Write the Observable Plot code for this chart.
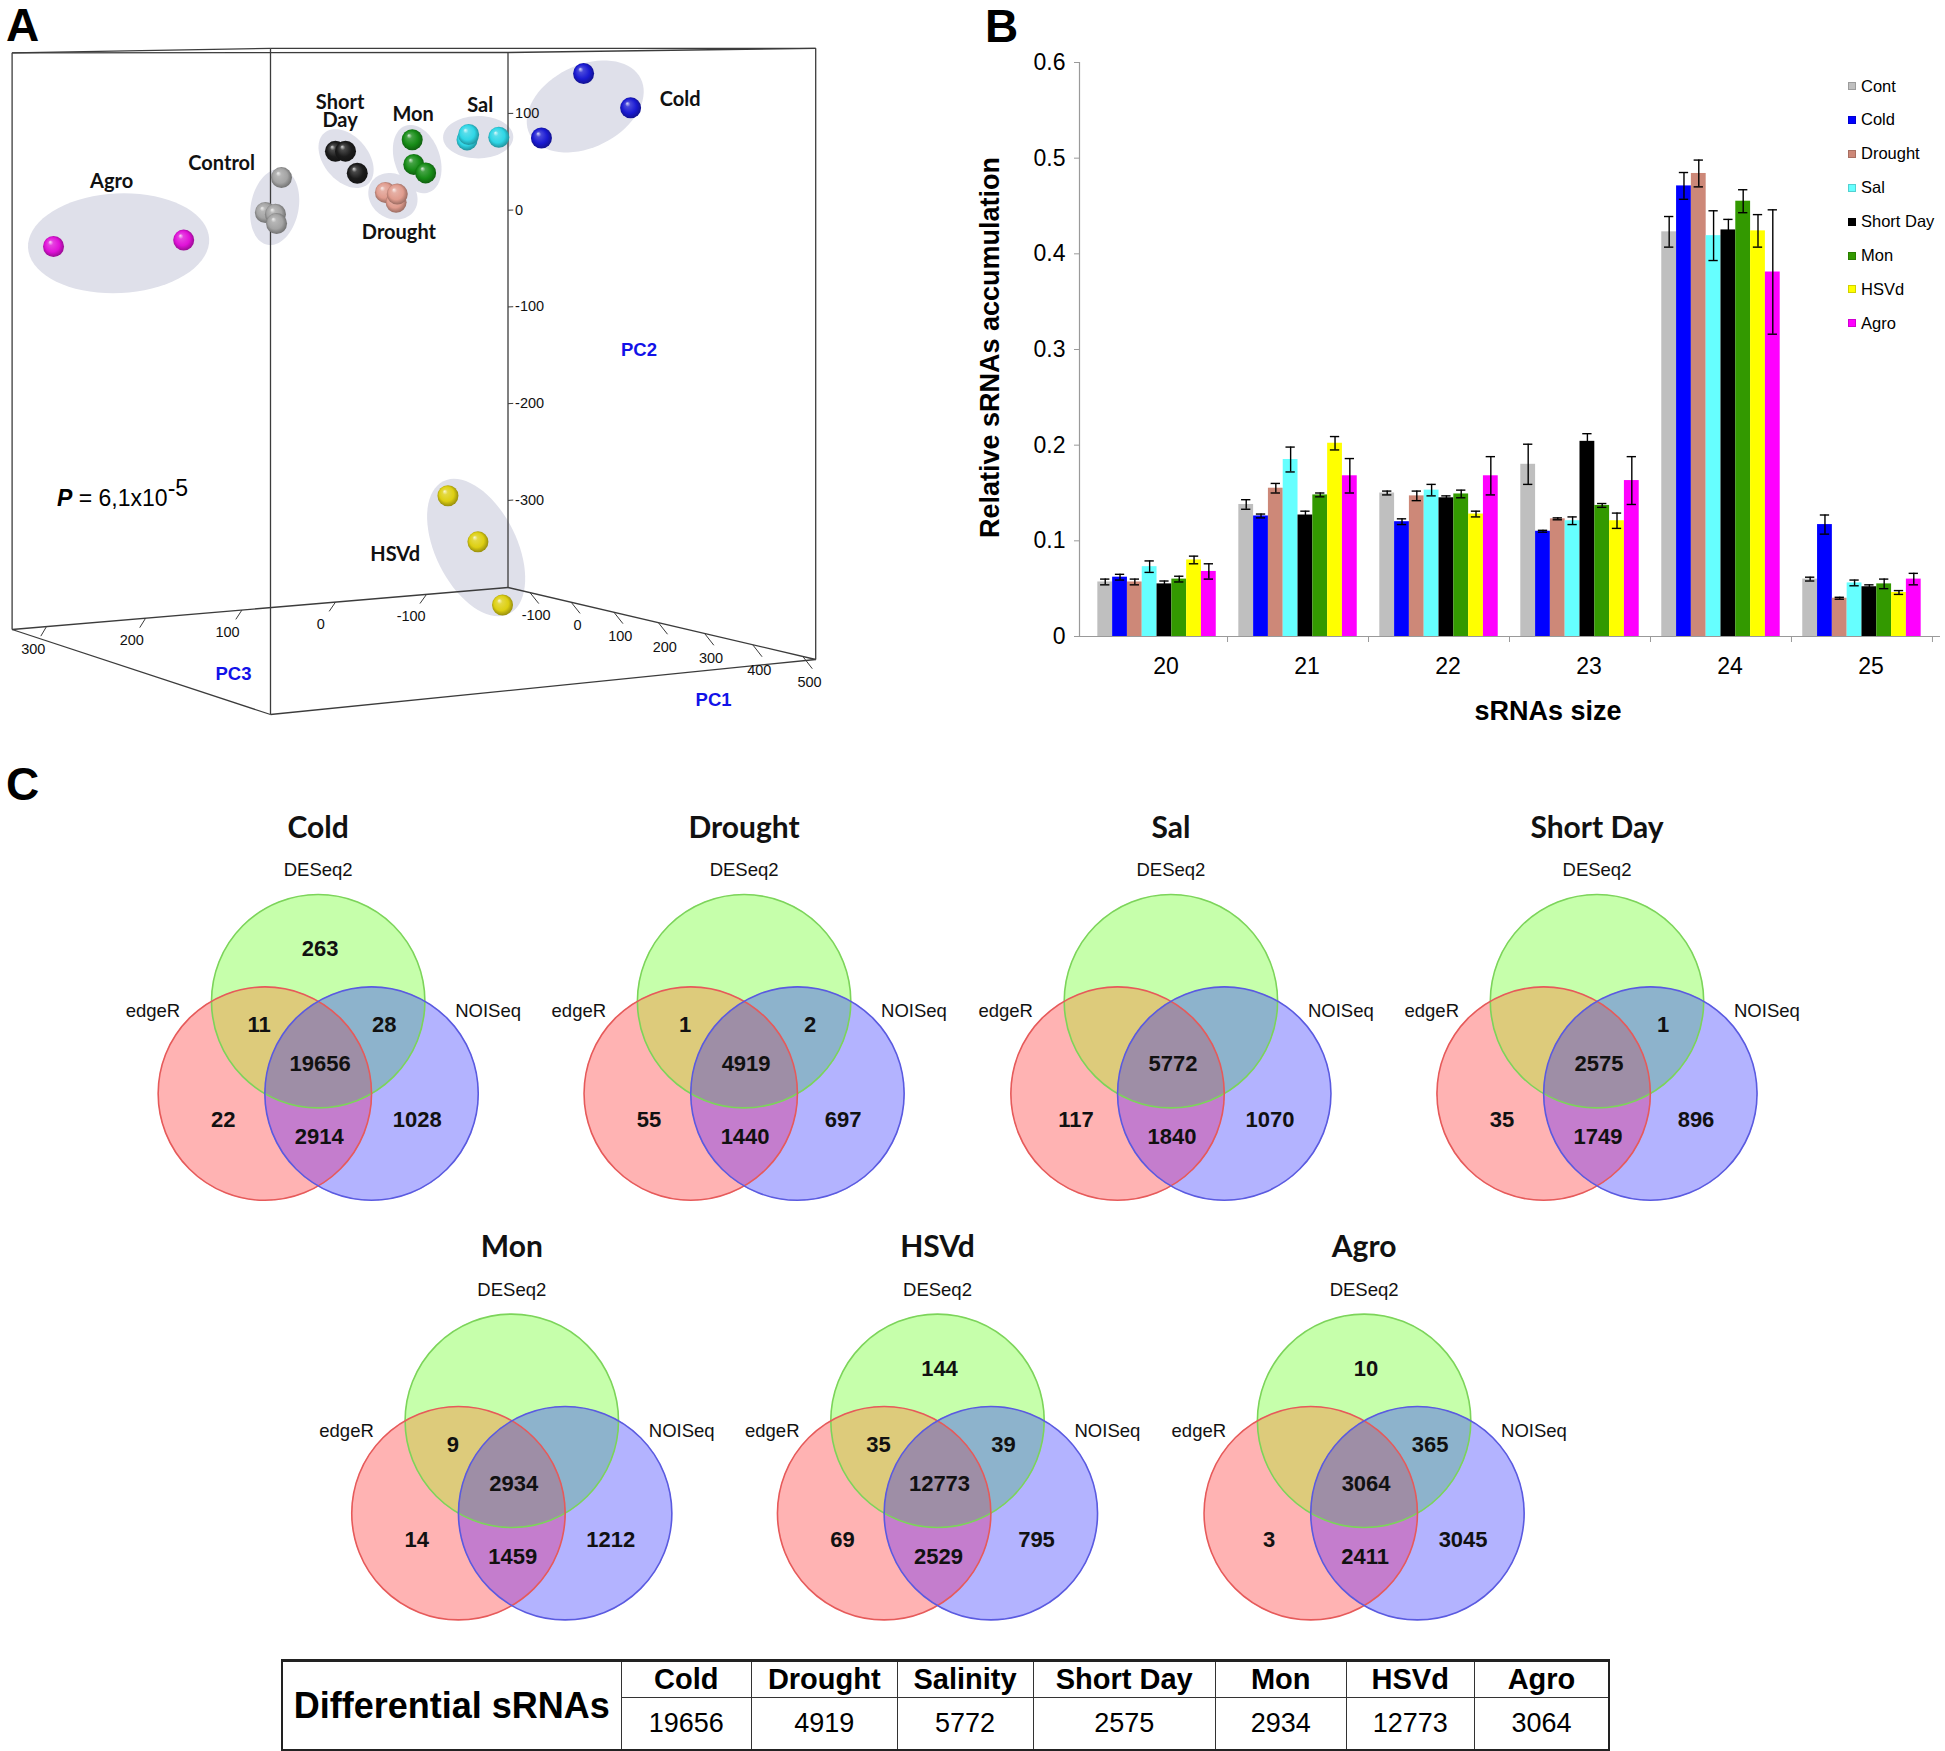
<!DOCTYPE html>
<html>
<head>
<meta charset="utf-8">
<script src="https://cdn.jsdelivr.net/npm/d3@7"></script>
<script src="https://cdn.jsdelivr.net/npm/@observablehq/plot@0.6"></script>
<style>
  html, body { margin: 0; padding: 0; background: #fff; }
  #root { position: relative; width: 1945px; height: 1751px; overflow: hidden; background: #fff;
          font-family: "Liberation Sans", Arial, sans-serif; color: #000; }
  .lg { position: absolute; left: 1848px; height: 20px; display: flex; align-items: center;
        font-size: 16.5px; white-space: nowrap; }
  .lg i { display: inline-block; width: 8px; height: 8px; margin-right: 5px;
          box-shadow: inset 0 0 0 1px rgba(0,0,0,0.18); }
  table.sum { position: absolute; left: 281px; top: 1659px; border-collapse: collapse; table-layout: fixed;
              font-family: "Liberation Sans", Arial, sans-serif; }
  table.sum td { border: 1.5px solid #333; text-align: center; vertical-align: middle; padding: 0; white-space: nowrap; }
  table.sum tr.h td { height: 35px; font-weight: bold; font-size: 29px; border-top: 3px solid #222; }
  table.sum tr.v td { height: 51px; font-size: 27px; border-bottom: 3px solid #222; }
  table.sum tr.h td.big { font-weight: bold; font-size: 36px; border-top: 3px solid #222; border-bottom: 3px solid #222; border-left: 2px solid #222; }
  table.sum td.last { border-right: 2px solid #222; }
</style>
</head>
<body>
<div id="root"></div>
<script>
// ======================= DATA =======================
// ---- Panel A: PCA scores (PC1, PC2, PC3) ----
const pcaGroups = ["Agro", "Control", "Short Day", "Mon", "Drought", "Sal", "Cold", "HSVd"];
const pcaSampleGroup = ["Agro","Agro",
  "Control","Control","Control","Control",
  "Short Day","Short Day","Short Day",
  "Mon","Mon","Mon",
  "Drought","Drought","Drought",
  "Sal","Sal","Sal",
  "Cold","Cold","Cold",
  "HSVd","HSVd","HSVd"];
const pcaPC1 = [-134, -48,  -48, -91, -64, -61,  -32, -6, 24,  -75, -71, -41,  -25, 5, 2,  -48, -52, 26,  118, 224, 19,  -100, -25, 35];
const pcaPC2 = [-23, -17,   41, 6, 5, -4,   66, 66.5, 45.6,  75.5, 51, 43,  25, 24, 16,  80.4, 75, 78.5,  141, 108, 77,  -285, -325, -382];
const pcaPC3 = [300, 200,  100, 100, 100, 100,  50, 50, 50,  -50, -50, -50,  0, 0, 0,  -100, -100, -100,  -150, -150, -150,  -100, -100, -100];
const pc1Ticks = [-100, 0, 100, 200, 300, 400, 500];
const pc2Ticks = [-300, -200, -100, 0, 100];
const pc3Ticks = [-100, 0, 100, 200, 300];
const pcaPText = "6,1x10", pcaPExp = "-5";

// ---- Panel B: relative sRNA accumulation by size ----
const sizes = [20, 21, 22, 23, 24, 25];
const conditions = ["Cont", "Cold", "Drought", "Sal", "Short Day", "Mon", "HSVd", "Agro"];
const meanCont     = [0.057, 0.138, 0.150, 0.180, 0.423, 0.060];
const meanCold     = [0.062, 0.126, 0.120, 0.110, 0.471, 0.117];
const meanDrought  = [0.057, 0.155, 0.147, 0.123, 0.484, 0.040];
const meanSal      = [0.073, 0.185, 0.153, 0.121, 0.419, 0.056];
const meanShortDay = [0.055, 0.127, 0.145, 0.204, 0.425, 0.052];
const meanMon      = [0.060, 0.148, 0.149, 0.137, 0.455, 0.055];
const meanHSVd     = [0.080, 0.202, 0.128, 0.121, 0.424, 0.046];
const meanAgro     = [0.068, 0.168, 0.168, 0.163, 0.381, 0.060];
const errCont      = [0.003, 0.005, 0.002, 0.021, 0.016, 0.002];
const errCold      = [0.003, 0.002, 0.003, 0.001, 0.014, 0.010];
const errDrought   = [0.003, 0.005, 0.005, 0.001, 0.014, 0.001];
const errSal       = [0.006, 0.013, 0.006, 0.004, 0.026, 0.003];
const errShortDay  = [0.003, 0.004, 0.002, 0.008, 0.011, 0.002];
const errMon       = [0.003, 0.002, 0.004, 0.002, 0.012, 0.005];
const errHSVd      = [0.004, 0.007, 0.003, 0.008, 0.017, 0.002];
const errAgro      = [0.008, 0.018, 0.020, 0.025, 0.065, 0.006];
const yTicksB = [0, 0.1, 0.2, 0.3, 0.4, 0.5, 0.6];

// ---- Panel C: Venn counts (DESeq2 / edgeR / NOISeq) ----
const vennTitles   = ["Cold", "Drought", "Sal", "Short Day", "Mon", "HSVd", "Agro"];
const onlyDESeq2   = [263, null, null, null, null, 144, 10];
const edgeRDESeq2  = [11, 1, null, null, 9, 35, null];
const DESeq2NOISeq = [28, 2, null, 1, null, 39, 365];
const allThree     = [19656, 4919, 5772, 2575, 2934, 12773, 3064];
const onlyEdgeR    = [22, 55, 117, 35, 14, 69, 3];
const edgeRNOISeq  = [2914, 1440, 1840, 1749, 1459, 2529, 2411];
const onlyNOISeq   = [1028, 697, 1070, 896, 1212, 795, 3045];
const tableHeaders = ["Cold", "Drought", "Salinity", "Short Day", "Mon", "HSVd", "Agro"];
const tableCounts  = [19656, 4919, 5772, 2575, 2934, 12773, 3064];

// ======================= STYLE / LAYOUT =======================
const root = document.getElementById("root");
const sphereColors = ["#e012d8", "#a4a4a4", "#1c1c1c", "#178c17", "#e09c8e", "#2fd6e6", "#1a1ad2", "#ddcf12"];
const condColors = ["#bfbfbf", "#0000ff", "#cd8878", "#66ffff", "#000000", "#339900", "#ffff00", "#ff00ff"];

// sphere gradients
document.body.insertAdjacentHTML("afterbegin",
  `<svg width="0" height="0" style="position:absolute"><defs>${sphereColors.map((c, i) => {
    const col = d3.color(c);
    const hi = d3.interpolateRgb(c, "#ffffff")(0.85), mid = d3.interpolateRgb(c, "#ffffff")(0.2);
    return `<radialGradient id="sph${i}" cx="0.5" cy="0.5" r="0.56" fx="0.33" fy="0.28">
      <stop offset="0" stop-color="${hi}"/><stop offset="0.22" stop-color="${mid}"/>
      <stop offset="0.62" stop-color="${col}"/><stop offset="1" stop-color="${col.darker(1.4)}"/></radialGradient>`;
  }).join("")}</defs></svg>`);

// ---------------- Panel A : perspective projection of PCA space ----------------
const P1 = [-155, 525], P2 = [-390, 163], P3 = [-192, 334];
const floorB = [507.5, 587], floorR = [815.2, 659], floorF = [270, 714], floorL = [11.6, 629];
const boxH = 535;
function homography(P0, Pa, Pb, Pc) { // unit square (0,0),(1,0),(1,1),(0,1)
  const [x0, y0] = P0, [x1, y1] = Pa, [x2, y2] = Pb, [x3, y3] = Pc;
  const sx = x0 - x1 + x2 - x3, sy = y0 - y1 + y2 - y3;
  const dx1 = x1 - x2, dx2 = x3 - x2, dy1 = y1 - y2, dy2 = y3 - y2;
  const den = dx1 * dy2 - dx2 * dy1;
  const g = (sx * dy2 - dx2 * sy) / den, h = (dx1 * sy - sx * dy1) / den;
  const a = x1 - x0 + g * x1, b = x3 - x0 + h * x3, d = y1 - y0 + g * y1, e = y3 - y0 + h * y3;
  return (s, t) => { const w = g * s + h * t + 1; return [(a * s + b * t + x0) / w, (d * s + e * t + y0) / w, w]; };
}
const H = homography(floorB, floorR, floorF, floorL);
function proj(p1, p2, p3) {
  const s = (p1 - P1[0]) / (P1[1] - P1[0]), t = (p3 - P3[0]) / (P3[1] - P3[0]), q = (p2 - P2[0]) / (P2[1] - P2[0]);
  const [X, Y, w] = H(s, t);
  return [X, Y - boxH * q / w, w];
}

const samples = pcaSampleGroup.map((g, i) => {
  const [px, py, w] = proj(pcaPC1[i], pcaPC2[i], pcaPC3[i]);
  return {group: g, gi: pcaGroups.indexOf(g), px, py, w};
}).sort((a, b) => b.w - a.w);

// group hull ellipses (from projected samples)
const ellipsePts = [], centroids = {};
for (const g of pcaGroups) {
  const pts = samples.filter(d => d.group === g), n = pts.length;
  const mx = d3.mean(pts, d => d.px), my = d3.mean(pts, d => d.py);
  centroids[g] = [mx, my];
  let sxx = 0, syy = 0, sxy = 0;
  for (const p of pts) { const dx = p.px - mx, dy = p.py - my; sxx += dx * dx; syy += dy * dy; sxy += dx * dy; }
  sxx /= n; syy /= n; sxy /= n;
  const tr2 = (sxx + syy) / 2, disc = Math.sqrt(((sxx - syy) / 2) ** 2 + sxy * sxy);
  const l1 = tr2 + disc, l2 = Math.max(0, tr2 - disc);
  const ang = Math.abs(sxy) > 1e-9 ? Math.atan2(l1 - sxx, sxy) : (sxx >= syy ? 0 : Math.PI / 2);
  const a = 1.1 * Math.sqrt(l1) + 19, b = Math.max(Math.sqrt(l2) + 19, 0.55 * a);
  for (let k = 0; k < 72; k++) {
    const th = 2 * Math.PI * k / 72, ex = a * Math.cos(th), ey = b * Math.sin(th);
    ellipsePts.push({g, x: mx + ex * Math.cos(ang) - ey * Math.sin(ang), y: my + ex * Math.sin(ang) + ey * Math.cos(ang)});
  }
}

// box edges, ticks
const cornerPC = (i, j, k) => [P1[i], P2[j], P3[k]];
const edgeList = [
  [[0,0,0],[1,0,0]], [[0,0,0],[0,0,1]], [[1,0,0],[1,0,1]], [[0,0,1],[1,0,1]],
  [[0,1,0],[1,1,0]], [[0,1,0],[0,1,1]], [[1,1,0],[1,1,1]], [[0,1,1],[1,1,1]],
  [[0,0,0],[0,1,0]], [[1,0,0],[1,1,0]], [[0,0,1],[0,1,1]], [[1,0,1],[1,1,1]]];
const edges = edgeList.map(([c1, c2]) => {
  const a = proj(...cornerPC(...c1)), b = proj(...cornerPC(...c2));
  return {x1: a[0], y1: a[1], x2: b[0], y2: b[1]};
});
const tickSegs = [], tickLabs = [], pc2Labs = [];
for (const v of pc1Ticks) {
  const a = proj(v, P2[0], P3[0]), b = proj(v, P2[0] - 12, P3[0] - 10), l = proj(v, P2[0] - 24, P3[0] - 7);
  tickSegs.push({x1: a[0], y1: a[1], x2: b[0], y2: b[1]}); tickLabs.push({x: l[0], y: l[1], text: String(v)});
}
for (const v of pc3Ticks) {
  const a = proj(P1[0], P2[0], v), b = proj(P1[0] - 17, P2[0] - 11, v), l = proj(P1[0] - 40, P2[0] - 26, v);
  tickSegs.push({x1: a[0], y1: a[1], x2: b[0], y2: b[1]}); tickLabs.push({x: l[0], y: l[1], text: String(v)});
}
for (const v of pc2Ticks) {
  const a = proj(P1[0], v, P3[0]), b = proj(P1[0], v, P3[0] - 6), l = proj(P1[0], v, P3[0] - 7);
  tickSegs.push({x1: a[0], y1: a[1], x2: b[0], y2: b[1]}); pc2Labs.push({x: l[0], y: l[1], text: String(v)});
}
const labelOffsets = {"Agro": [-7, -61], "Control": [-53, -43], "Short Day": [-6, -46], "Mon": [-4, -44],
  "Drought": [6, 37], "Sal": [2, -31], "Cold": [95, -6], "HSVd": [-81, 8]};
const groupLabels = pcaGroups.map(g => ({
  x: centroids[g][0] + labelOffsets[g][0], y: centroids[g][1] + labelOffsets[g][1],
  text: g === "Short Day" ? "Short\nDay" : g}));
const axisNames = [
  (() => { const p = proj(300, P2[0], P3[0]); return {x: p[0] + 9, y: p[1] + 67, text: "PC1"}; })(),
  (() => { const p = proj(P1[0], -150, P3[0]); return {x: p[0] + 131, y: p[1] - 5, text: "PC2"}; })(),
  (() => { const p = proj(P1[0], P2[0], 100); return {x: p[0] - 8.5, y: p[1] + 64, text: "PC3"}; })()];

const plotA = Plot.plot({
  width: 830, height: 730, margin: 0,
  x: {type: "linear", domain: [0, 830], range: [0, 830], axis: null},
  y: {type: "linear", domain: [0, 730], range: [0, 730], axis: null},
  color: {type: "identity"},
  style: {background: "transparent", fontFamily: "Liberation Sans, Arial, sans-serif", overflow: "visible"},
  marks: [
    Plot.line(ellipsePts, {x: "x", y: "y", z: "g", fill: "#dfe0ea", stroke: "none", curve: "linear-closed"}),
    Plot.link(edges, {x1: "x1", y1: "y1", x2: "x2", y2: "y2", stroke: "#3c3c3c", strokeWidth: 1.3}),
    Plot.link(tickSegs, {x1: "x1", y1: "y1", x2: "x2", y2: "y2", stroke: "#3c3c3c", strokeWidth: 1}),
    Plot.text(tickLabs, {x: "x", y: "y", text: "text", fontSize: 14.5, fill: "#111"}),
    Plot.text(pc2Labs, {x: "x", y: "y", text: "text", fontSize: 14.5, fill: "#111", textAnchor: "start", dx: 1}),
    Plot.dot(samples, {x: "px", y: "py", r: 10.5, fill: d => `url(#sph${d.gi})`, stroke: "none"}),
    Plot.text(groupLabels, {x: "x", y: "y", text: "text", fontSize: 20, fontWeight: "bold",
      fontFamily: "Lato, 'Open Sans', sans-serif", fill: "#111", lineHeight: 0.88}),
    Plot.text(axisNames, {x: "x", y: "y", text: "text", fontSize: 18.5, fontWeight: "bold", fill: "#1212e8"})
  ]
});
plotA.style.position = "absolute"; plotA.style.left = "0px"; plotA.style.top = "0px";
root.appendChild(plotA);

// ---------------- Panel B : grouped bar chart ----------------
const meansB = [meanCont, meanCold, meanDrought, meanSal, meanShortDay, meanMon, meanHSVd, meanAgro];
const errsB = [errCont, errCold, errDrought, errSal, errShortDay, errMon, errHSVd, errAgro];
const barW = 0.105, groupW = barW * conditions.length;
const barRows = [];
conditions.forEach((c, ci) => sizes.forEach((s, si) => barRows.push({
  cond: c, size: s, x1: s - groupW / 2 + ci * barW, mean: meansB[ci][si], err: errsB[ci][si]})));
const xc = d => d.x1 + barW / 2;
const plotB = Plot.plot({
  width: 985, height: 730, marginLeft: 119, marginRight: 5, marginTop: 62, marginBottom: 94,
  x: {domain: [19.45, 25.557], axis: null},
  y: {domain: [0, 0.6], axis: null},
  color: {domain: conditions, range: condColors},
  style: {background: "transparent", fontFamily: "Liberation Sans, Arial, sans-serif", overflow: "visible"},
  marks: [
    Plot.rect(barRows, {x1: "x1", x2: d => d.x1 + barW, y1: 0, y2: "mean", fill: "cond"}),
    Plot.ruleX(barRows, {x: xc, y1: d => d.mean - d.err, y2: d => d.mean + d.err, stroke: "#000", strokeWidth: 1.4}),
    Plot.ruleY(barRows, {y: d => d.mean + d.err, x1: d => xc(d) - 0.033, x2: d => xc(d) + 0.033, stroke: "#000", strokeWidth: 1.4}),
    Plot.ruleY(barRows, {y: d => d.mean - d.err, x1: d => xc(d) - 0.033, x2: d => xc(d) + 0.033, stroke: "#000", strokeWidth: 1.4}),
    Plot.ruleY([0], {stroke: "#9a9a9a", strokeWidth: 1.2}),
    Plot.ruleX([19.45], {stroke: "#9a9a9a", strokeWidth: 1.2}),
    Plot.axisY({ticks: yTicksB, tickSize: 5, tickPadding: 9, fontSize: 23, label: null,
      tickFormat: d => d === 0 ? "0" : d.toFixed(1), stroke: "#9a9a9a"}),
    Plot.axisX({ticks: sizes, tickSize: 0, tickPadding: 21, fontSize: 23, label: null, dx: 9, tickFormat: d => String(d)}),
    Plot.axisX({ticks: sizes.map(s => s + 0.5), tickSize: 6, label: null, tickFormat: () => "", stroke: "#9a9a9a"}),
    Plot.text(["Relative sRNAs accumulation"], {frameAnchor: "left", textAnchor: "middle", lineAnchor: "middle",
      rotate: -90, dx: -89, dy: -2, fontSize: 27, fontWeight: "bold"}),
    Plot.text(["sRNAs size"], {frameAnchor: "bottom", textAnchor: "middle", lineAnchor: "middle",
      dx: 38, dy: 75, fontSize: 27, fontWeight: "bold"})
  ]
});
plotB.style.position = "absolute"; plotB.style.left = "960px"; plotB.style.top = "0px";
root.appendChild(plotB);

// legend for panel B
const legendTop = 86, legendStep = 33.9;
conditions.forEach((c, i) => {
  const row = document.createElement("div");
  row.className = "lg";
  row.style.top = (legendTop + i * legendStep - 10) + "px";
  row.innerHTML = `<i style="background:${condColors[i]}"></i>${c}`;
  root.appendChild(row);
});

// ---------------- Panel C : Venn diagrams ----------------
const VR = 106.7;
const rowY = [1000.7, 1420.3];
const colX = [[317.7, 743.6, 1170.4, 1596.5], [511.3, 937, 1363.6]];
const vennCenters = [...colX[0].map(x => [x, rowY[0]]), ...colX[1].map(x => [x, rowY[1]])];
const regionColor = {G: "#c6ffab", R: "#ffb3b3", B: "#b3b3ff", RG: "#ddcb7b", GB: "#8db3cc", RB: "#c47dcd", RGB: "#9e8ea6"};
const circleRows = [], numberRows = [], titleRows = [], deseqRows = [], edgeRRows = [], noiseqRows = [];
const regionOffsets = [[onlyDESeq2, 2, -52], [edgeRDESeq2, -59, 24], [DESeq2NOISeq, 66, 24], [allThree, 2, 63],
  [onlyEdgeR, -95, 119], [edgeRNOISeq, 1, 136], [onlyNOISeq, 99, 119]];
const rasters = vennCenters.map(([cx, cy], i) => {
  const rx = cx - VR / 2, ry = cy + VR * Math.sqrt(3) / 2, bx = cx + VR / 2, by = ry;
  circleRows.push({x: cx, y: cy, c: "#7cd45a"}, {x: rx, y: ry, c: "#e65a5a"}, {x: bx, y: by, c: "#5a5ae0"});
  for (const [arr, dx, dy] of regionOffsets) if (arr[i] != null) numberRows.push({x: cx + dx, y: cy + dy, text: String(arr[i])});
  titleRows.push({x: cx, y: cy - 173, text: vennTitles[i]});
  deseqRows.push({x: cx, y: cy - 131, text: "DESeq2"});
  edgeRRows.push({x: cx - 138, y: cy + 10, text: "edgeR"});
  noiseqRows.push({x: cx + 137, y: cy + 10, text: "NOISeq"});
  const R2 = VR * VR;
  const x1 = Math.floor(rx - VR - 2), x2 = Math.ceil(bx + VR + 2), y1 = Math.floor(cy - VR - 2), y2 = Math.ceil(ry + VR + 2);
  return Plot.raster({
    x1, x2, y1, y2, width: x2 - x1, height: y2 - y1,
    fill: (x, y) => {
      const inG = (x - cx) ** 2 + (y - cy) ** 2 <= R2;
      const inR = (x - rx) ** 2 + (y - ry) ** 2 <= R2;
      const inB = (x - bx) ** 2 + (y - by) ** 2 <= R2;
      const key = (inR ? "R" : "") + (inG ? "G" : "") + (inB ? "B" : "");
      return key ? regionColor[key] : null;
    }
  });
});
const plotC = Plot.plot({
  width: 1945, height: 880, margin: 0,
  x: {type: "linear", domain: [0, 1945], range: [0, 1945], axis: null},
  y: {type: "linear", domain: [770, 1650], range: [0, 880], axis: null},
  color: {type: "identity"},
  style: {background: "transparent", fontFamily: "Liberation Sans, Arial, sans-serif", overflow: "visible"},
  marks: [
    ...rasters,
    Plot.dot(circleRows, {x: "x", y: "y", r: VR, stroke: "c", fill: "none", strokeWidth: 1.6}),
    Plot.text(titleRows, {x: "x", y: "y", text: "text", fontSize: 30, fontWeight: "bold", fontFamily: "Lato, 'Open Sans', sans-serif", fill: "#111"}),
    Plot.text(deseqRows, {x: "x", y: "y", text: "text", textAnchor: "middle", fontSize: 18.5, fill: "#111"}),
    Plot.text(edgeRRows, {x: "x", y: "y", text: "text", textAnchor: "end", fontSize: 18.5, fill: "#111"}),
    Plot.text(noiseqRows, {x: "x", y: "y", text: "text", textAnchor: "start", fontSize: 18.5, fill: "#111"}),
    Plot.text(numberRows, {x: "x", y: "y", text: "text", fontSize: 22, fontWeight: "bold", fill: "#111"})
  ]
});
plotC.style.position = "absolute"; plotC.style.left = "0px"; plotC.style.top = "770px";
root.appendChild(plotC);

// ---------------- Summary table ----------------
const colWidths = [339, 130.5, 145.5, 136, 182.5, 130.5, 128.5, 134.5];
const table = document.createElement("table");
table.className = "sum";
table.style.width = d3.sum(colWidths) + "px";
table.innerHTML =
  `<colgroup>${colWidths.map(w => `<col style="width:${w}px">`).join("")}</colgroup>` +
  `<tr class="h"><td class="big" rowspan="2">Differential sRNAs</td>${tableHeaders.map((h, i) => `<td${i === tableHeaders.length - 1 ? ' class="last"' : ""}>${h}</td>`).join("")}</tr>` +
  `<tr class="v">${tableCounts.map((v, i) => `<td${i === tableCounts.length - 1 ? ' class="last"' : ""}>${v}</td>`).join("")}</tr>`;
root.appendChild(table);

// ---------------- Panel letters & annotations ----------------
function addDiv(html, css) { const d = document.createElement("div"); d.innerHTML = html; d.style.cssText = css; root.appendChild(d); return d; }
addDiv("A", "position:absolute;left:6px;top:2px;font:bold 46px 'Liberation Sans',Arial,sans-serif;line-height:1;");
addDiv("B", "position:absolute;left:985px;top:3px;font:bold 46px 'Liberation Sans',Arial,sans-serif;line-height:1;");
addDiv("C", "position:absolute;left:6px;top:761px;font:bold 46px 'Liberation Sans',Arial,sans-serif;line-height:1;");
addDiv(`<b><i>P</i></b> = ${pcaPText}<span style="position:relative;top:-10px;">${pcaPExp}</span>`,
  "position:absolute;left:57px;top:487px;font:23px 'Liberation Sans',Arial,sans-serif;line-height:1;white-space:nowrap;");
</script>
</body>
</html>
